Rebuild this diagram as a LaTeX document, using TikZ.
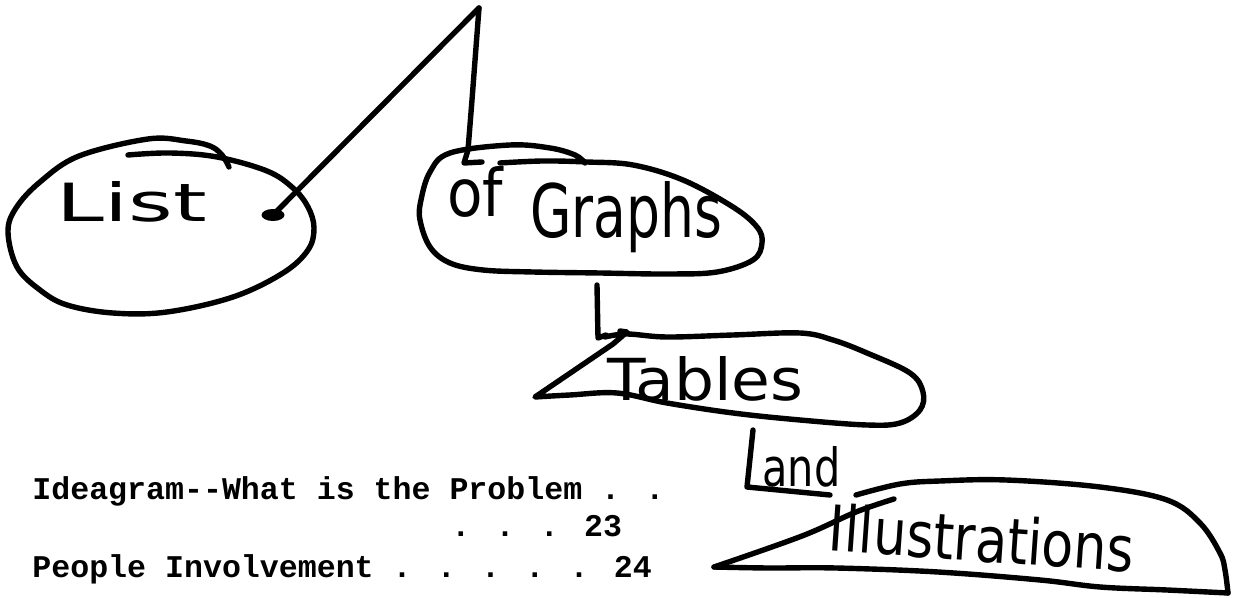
\documentclass[tikz,border=0pt]{standalone}
\usepackage{fontspec}
\usepackage{graphicx}
\usetikzlibrary{shapes.geometric}
\newfontfamily\handfont{DejaVu Sans}
\newfontfamily\typefont{Liberation Mono}
\tikzset{
  stroke/.style={line width=2.7pt, line cap=round, line join=round},
  hand/.style={inner sep=0pt, font=\handfont},
  typed/.style={inner sep=0pt, anchor=base west, font=\typefont\bfseries\fontsize{15.8pt}{19pt}\selectfont},
}
\begin{document}
\begin{tikzpicture}[x=0.5pt,y=-0.5pt]
\fill[white] (0,0) rectangle (1233,598);
\useasboundingbox (0,0) rectangle (1233,598);

% hand-written words
\node[hand] (list) at (132,202) {\resizebox{75pt}{20pt}{List}};
\node[hand] (of) at (475,192) {\resizebox{28pt}{25pt}{of}};
\node[hand, anchor=base west] (graphs) at (530,238) {\resizebox{96pt}{28pt}{Graphs}};
\node[hand, anchor=base west] (tables) at (607,401) {\resizebox{98pt}{22pt}{Tables}};
\node[hand, anchor=base west] (and) at (762,487) {\resizebox{39pt}{20pt}{and}};
\node[hand, rotate=-4] (illus) at (982,538) {\resizebox{153pt}{24pt}{Illustrations}};

% outlines
\draw[stroke] plot[smooth, tension=0.6] coordinates {
 (128,155) (170,153) (217,157) (267,171) (293,188) (308,207) (314,228) (308,250)
 (283,273) (233,297) (167,312) (113,313) (67,305) (40,290) (17,267) (8,232)
 (16,208) (40,182) (79,156) (148,139) (186,141) (210,146) (222,155) (229,167)};

\draw[stroke] plot[smooth, tension=0.6] coordinates {
 (500,163) (543,161) (587,162) (633,165) (683,180) (733,207) (757,227) (762,243)
 (753,260) (717,272) (667,274) (600,273) (533,272) (483,270) (450,263) (430,247)
 (420,220) (421,200) (430,172) (450,153) (510,145) (550,148) (575,155) (585,163)};

\draw[stroke] plot[smooth, tension=0.6] coordinates {
 (605,337) (627,334) (667,337) (733,335) (800,333) (833,340) (867,353) (910,373)
 (923,392) (920,410) (900,423) (867,425) (800,420) (733,413) (667,403) (617,393)
 (570,395) (535,397)} -- (613,344) -- (627,332) -- (620,331);

\draw[stroke] plot[smooth, tension=0.6] coordinates {
 (894,499) (856,512) (802,536) (714,567)};
\draw[stroke] plot[smooth, tension=0.6] coordinates {
 (714,567) (768,568) (836,568) (938,572) (1040,580) (1100,587) (1167,590) (1228,593)};
\draw[stroke] plot[smooth, tension=0.6] coordinates {
 (1228,593) (1225,570) (1220,553) (1200,523) (1167,500) (1100,487) (1006,480)
 (940,481) (900,484) (856,495)};

% connectors
\coordinate (apex) at (479,8);
\node[fill, ellipse, minimum width=11.5pt, minimum height=6pt, inner sep=0pt] (dot) at (273,215) {};
\draw[stroke] (apex) -- (dot.center);
\coordinate (ofF) at (482,162);
\draw[stroke] (apex) -- (472,100) -- (468,150) -- (464,163) -- (ofF);
\coordinate (gb) at (597,285);
\coordinate (tt) at (606,335);
\draw[stroke] (gb) -- (598,338) -- (tt);
\coordinate (tb) at (753,430);
\coordinate (au) at (830,495);
\draw[stroke] (tb) -- (747,487) -- (au);

% typed text
\node[typed] (l1) at (32,500) {Ideagram-{}-What is the Problem . .};
\node[typed] (l2) at (451,537) {. . . 23};
\node[typed] (l3) at (32,578) {People Involvement . . . . . 24};
\end{tikzpicture}
\end{document}
